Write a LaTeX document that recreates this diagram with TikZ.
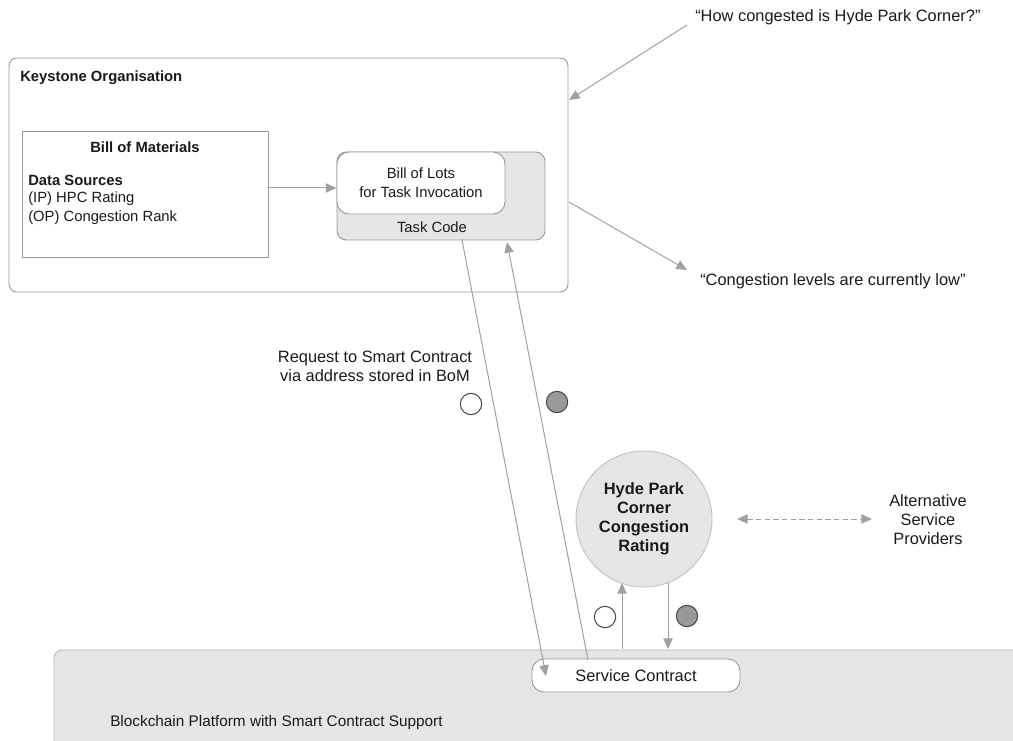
\documentclass[tikz,border=0pt]{standalone}
\usepackage{fontspec}
\setmainfont{Liberation Sans}
\usetikzlibrary{arrows.meta}
\definecolor{edge}{HTML}{9A9A9A}
\definecolor{arr}{HTML}{A0A0A0}
\definecolor{panel}{HTML}{E6E6E6}
\definecolor{ink}{HTML}{1A1A1A}
\definecolor{dot}{HTML}{999999}
\tikzset{
  every node/.style={font=\fontsize{12.3}{14.3}\selectfont, text=ink, inner sep=0pt},
  small/.style={font=\fontsize{11.1}{14.3}\selectfont},
  smallb/.style={font=\fontsize{11.1}{14.3}\selectfont\bfseries},
  box/.style={draw=edge, line width=0.7pt, rounded corners=6pt},
  conn/.style={draw=arr, line width=0.75pt, -{Triangle[length=8pt,width=7pt]}},
  token/.style={circle, draw=ink!80, line width=0.8pt, minimum size=16pt},
}
\begin{document}
\begin{tikzpicture}[x=0.75pt,y=-0.75pt]
\useasboundingbox (0,0) rectangle (1013,741);
% blockchain platform
\draw[box, fill=panel, draw=edge!70] (54,650) rectangle (1030,760);
\node[anchor=west, font=\fontsize{11.5}{14.3}\selectfont] (bc) at (110,723) {Blockchain Platform with Smart Contract Support};
% keystone
\draw[box] (9,58) rectangle (568,292);
\node (ks) at (288.5,175) [minimum width=559*0.75pt, minimum height=234*0.75pt] {};
\node[anchor=west, smallb] at (20,78) {Keystone Organisation};
% BoM
\node (bom) [draw=edge, line width=0.6pt, minimum width=246*0.75pt, minimum height=126*0.75pt] at (145,194) {};
\node[smallb] at (145,147) {Bill of Materials};
\node[anchor=west, smallb] at (28,180) {Data Sources};
\node[anchor=west, small] at (28,199) {(IP) HPC Rating};
\node[anchor=west, small] at (28,218) {(OP) Congestion Rank};
% Task code
\node (tc) [box, fill=panel, rounded corners=7pt, minimum width=208*0.75pt, minimum height=88*0.75pt] at (441,196) {};
\node[small] at (432,227) {Task Code};
\node (bol) [box, fill=white, rounded corners=9pt, minimum width=168*0.75pt, minimum height=62*0.75pt, align=center, small] at (421,183) {Bill of Lots\\ for Task Invocation};
\draw[conn] (bom.east |- 0,188) -- (bol.west |- 0,188);
% questions
\node[anchor=west] (q) at (695,17) {``How congested is Hyde Park Corner?''};
\node[anchor=west] (a) at (700,281) {``Congestion levels are currently low''};
\coordinate (qs) at (687,25);
\coordinate (qe) at (569,100);
\draw[conn] (qs) -- (qe);
\coordinate (as) at (569,202);
\coordinate (ae) at (687,270);
\draw[conn] (as) -- (ae);
% service contract
\node (sc) [box, fill=white, rounded corners=9pt, minimum width=208*0.75pt, minimum height=33*0.75pt] at (636,675.5) {Service Contract};
\coordinate (t1) at (462,240);
\coordinate (s1) at (546,676);
\draw[conn] (t1) -- (s1);
\coordinate (s2) at (588,660);
\coordinate (t2) at (507,242);
\draw[conn] (s2) -- (t2);
\node[align=center] (req) at (375,366) {Request to Smart Contract\\ via address stored in BoM};
\node[token, fill=white] (w1) at (471,404) {};
\node[token, fill=dot] (g1) at (557,402) {};
% Hyde park
\node (hpc) [circle, draw=edge!60, fill=panel, line width=0.7pt, minimum size=136*0.75pt, align=center, font=\fontsize{12.3}{14.3}\selectfont\bfseries] at (644,519) {Hyde Park\\ Corner\\ Congestion\\ Rating};
\node[align=center] (alt) at (928,520) {Alternative\\ Service\\ Providers};
\coordinate (d1) at (737,519);
\coordinate (d2) at (872,519);
\draw[conn, {Triangle[length=8pt,width=7pt]}-{Triangle[length=8pt,width=7pt]}, dashed, dash pattern=on 4pt off 2.5pt] (d1) -- (d2);
\coordinate (u1) at (622,649);
\draw[conn] (u1) -- (622,583);
\coordinate (v1) at (668,583);
\draw[conn] (v1) -- (668,649);
\node[token, fill=white] (w2) at (605,617) {};
\node[token, fill=dot] (g2) at (687,616) {};
\end{tikzpicture}
\end{document}
